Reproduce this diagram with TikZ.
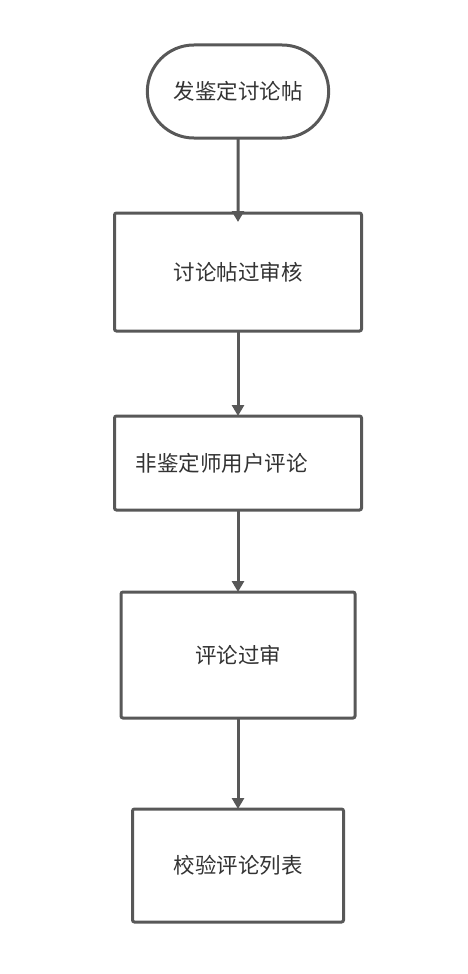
\documentclass[tikz,border=0pt]{standalone}
\usepackage{fontspec}
\setmainfont{Noto Sans CJK SC}
\usetikzlibrary{arrows.meta,positioning,shapes.misc}
\definecolor{Line}{HTML}{585858}
\definecolor{Ink}{HTML}{333333}

\begin{document}
\begin{tikzpicture}[
  term/.style={rounded rectangle,draw=Line,fill=white,line width=3pt,minimum width=188pt,minimum height=93pt,outer sep=0pt,font=\fontsize{21.5}{25}\selectfont,text=Ink},
  box/.style={rectangle,rounded corners=2pt,draw=Line,fill=white,line width=3pt,outer sep=0pt,align=center,font=\fontsize{21.5}{25}\selectfont,text=Ink},
  arrow/.style={-{Triangle[length=11pt,width=12pt]},line width=3pt,draw=Line}
]
\useasboundingbox (0,0) rectangle (468pt,-974pt);
\node[term] (post) at (238pt,-91.5pt) {发鉴定讨论帖};
\node[box,minimum width=247pt,minimum height=118pt,below=75pt of post] (audit) {讨论帖过审核};
\node[box,minimum width=247pt,minimum height=94pt,text width=205pt,inner xsep=21pt,align=left,below=85pt of audit] (comment) {非鉴定师用户评论};
\node[box,minimum width=234pt,minimum height=126pt,below=82pt of comment] (pass) {评论过审};
\node[box,minimum width=211pt,minimum height=113pt,below=91pt of pass] (check) {校验评论列表};
\draw[arrow,shorten >=-9pt] (post) -- (audit);
\draw[arrow] (audit) -- (comment);
\draw[arrow] (comment) -- (pass);
\draw[arrow] (pass) -- (check);
\end{tikzpicture}
\end{document}
